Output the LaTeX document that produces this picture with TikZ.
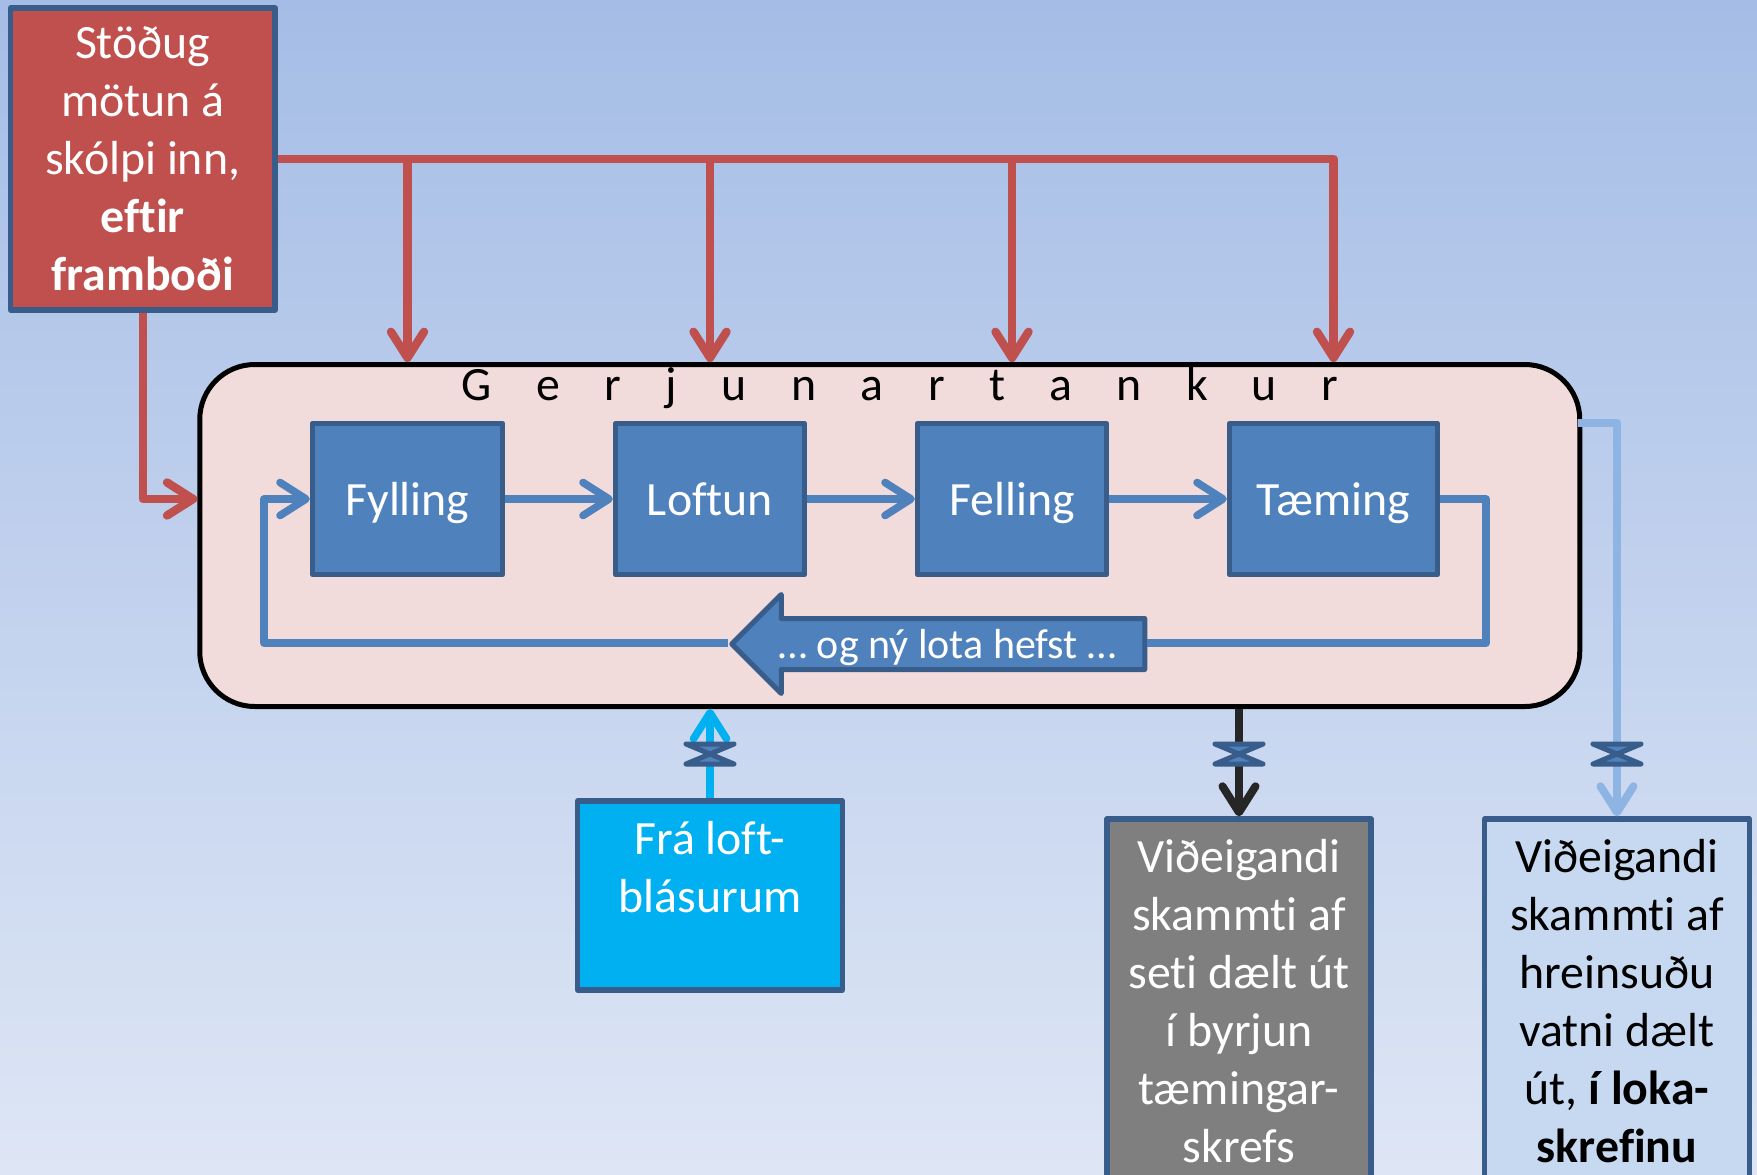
\documentclass[tikz,border=0pt]{standalone}
\usepackage{fontspec}
\setmainfont{Carlito}[Ligatures=NoCommon]
\newfontfamily\spacedfont[LetterSpace=93,Ligatures=NoCommon]{Carlito}
\usetikzlibrary{arrows.meta,shapes.arrows}
\definecolor{bgtop}{HTML}{A5BDE6}
\definecolor{bgbot}{HTML}{DEE6F5}
\definecolor{edgeblue}{HTML}{385D8A}
\definecolor{stepblue}{HTML}{4F81BD}
\definecolor{redbox}{HTML}{C0504D}
\definecolor{tankfill}{HTML}{F2DCDB}
\definecolor{airblue}{HTML}{00B0F0}
\definecolor{greybox}{HTML}{7F7F7F}
\definecolor{lightbox}{HTML}{C6D9F1}
\definecolor{lightline}{HTML}{8EB4E3}
\definecolor{darkline}{HTML}{262626}
\tikzset{
  bigtext/.style={font=\fontsize{47.8}{58}\selectfont,align=center,inner sep=0pt},
  box/.style={draw=edgeblue,line width=5.4pt,line join=round,bigtext,text=white},
  stepbox/.style={box,fill=stepblue,minimum width=#1,minimum height=151,text height=42pt,text depth=10pt},
  barb/.style={-{Straight Barb[length=26pt,width=33pt,round]},line join=round},
  redflow/.style={barb,draw=redbox,line width=8.4pt},
  blueline/.style={draw=stepblue,line width=7.6pt,line join=round},
  blueflow/.style={blueline,barb},
  valve/.pic={
    \draw[draw=edgeblue,fill=stepblue,line width=5pt,line join=round]
      (-24,-10) -- (24,-10) -- (-24,10) -- (24,10) -- cycle;
  }
}
\begin{document}
\begin{tikzpicture}[x=1pt,y=-1pt]
\useasboundingbox (0,0) rectangle (1757,1175);
\clip (0,0) rectangle (1757,1175);
\shade[top color=bgtop,bottom color=bgbot] (0,0) rectangle (1757,1175);

\node[draw=black,fill=tankfill,line width=5pt,rounded corners=55pt,minimum width=1380,minimum height=342] (tank) at (889.75,535.5) {};
\node[font=\fontsize{47.8}{58}\selectfont\spacedfont,inner sep=0pt] (tanktitle) at (900,388) {Gerjunartankur};

\node[box,fill=redbox,minimum width=264.5,minimum height=302] (red) at (142.75,159) {Stöðug\\mötun á\\skólpi inn,\\\textbf{eftir}\\\textbf{framboði}};

\node[stepbox=190] (fyll) at (407.5,499) {Fylling};
\node[stepbox=189] (loft) at (710,499) {Loftun};
\node[stepbox=189] (fell) at (1012,499) {Felling};
\node[stepbox=208] (taem) at (1333.5,499) {Tæming};

\node[box,fill=airblue,minimum width=264.5,minimum height=189] (air) at (710,895.5) {Frá loft-\\blásurum\\\ };
\node[box,fill=greybox,minimum width=264,minimum height=364] (grey) at (1239,1001) {Viðeigandi\\skammti af\\seti dælt út\\í byrjun\\tæmingar-\\skrefs};
\node[box,fill=lightbox,text=black,minimum width=265,minimum height=364] (light) at (1617,1001) {Viðeigandi\\skammti af\\hreinsuðu\\vatni dælt\\út, \textbf{í loka-}\\\textbf{skrefinu}};

\node[single arrow,shape border rotate=180,draw=edgeblue,fill=stepblue,line width=5pt,line join=round,
  text=white,font=\fontsize{42}{50}\selectfont,inner sep=0pt,text height=37pt,text depth=9pt,
  single arrow head extend=24pt,single arrow tip angle=90,minimum height=413,minimum width=95,anchor=center] (loop) at (951,644) {\hspace*{-7pt}… og ný lota hefst …\hspace{25pt}};

% red feed
\draw[redflow] (red.east) -- (taem.north |- red.east) -- (taem.north |- tank.north);
\draw[redflow] (fyll.north |- red.east) -- (fyll.north |- tank.north);
\draw[redflow] (loft.north |- red.east) -- (loft.north |- tank.north);
\draw[redflow] (fell.north |- red.east) -- (fell.north |- tank.north);
\draw[redflow] (red.south) |- (tank.west |- fyll.west);

% cycle
\draw[blueflow] (fyll.east) -- (loft.west);
\draw[blueflow] (loft.east) -- (fell.west);
\draw[blueflow] (fell.east) -- (taem.west);
\coordinate (loopR) at (1486,643);
\coordinate (loopL) at (264,643);
\draw[blueline] (taem.east) -| (loopR) -- (loop.east |- loopR);
\draw[blueflow] (loop.tip |- loopL) -- (loopL) |- (fyll.west);

% outlets
\draw[draw=airblue,line width=7.6pt,-{Straight Barb[length=26pt,width=33pt,round]}] (air.north) -- (air.north |- tank.south);
\draw[draw=darkline,barb,line width=8pt] (grey.north |- tank.south) -- (grey.north);
\coordinate (lightstart) at (1578,423);
\draw[draw=lightline,barb,line width=8pt] (lightstart) -| (light.north);

\pic at (710,754) {valve};
\pic at (1239,754) {valve};
\pic at (1617,754) {valve};
\end{tikzpicture}
\end{document}
